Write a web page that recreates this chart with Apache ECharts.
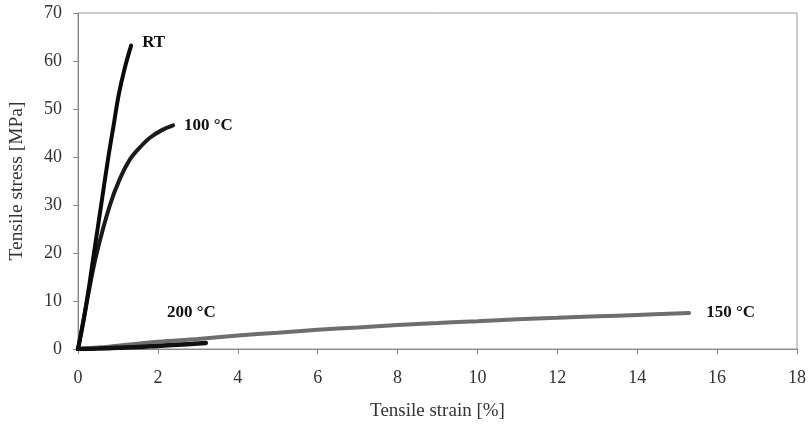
<!DOCTYPE html>
<html><head><meta charset="utf-8">
<script src="https://cdn.jsdelivr.net/npm/echarts@6/dist/echarts.min.js"></script>
<style>html,body{margin:0;padding:0;background:#fff}#c{width:810px;height:424px}</style>
</head><body><div id="c"></div>
<script>
const xTicks = [0,2,4,6,8,10,12,14,16,18];
const yTicks = [0,10,20,30,40,50,60,70];
const seriesNames = ['RT','100 °C','150 °C','200 °C'];
const rtData = [[0,0],[0.22,10],[0.4,20],[0.58,30],[0.76,40],[0.9,47],[1.02,53],[1.17,58.5],[1.33,63.2]];
const t100Data = [[0,0],[0.12,5],[0.27,12],[0.47,20],[0.8,30],[1.05,35.5],[1.3,39.5],[1.55,42],[1.8,44],[2.1,45.6],[2.38,46.6]];
const t150Data = [[0,0],[0.5,0.3],[1,0.7],[2,1.5],[3,2.1],[4,2.8],[5,3.4],[6,4.0],[7,4.5],[8,5.0],[9,5.4],[10,5.8],[11,6.2],[12,6.5],[13,6.8],[14,7.1],[15.3,7.5]];
const t200Data = [[0,0],[0.5,0.1],[1,0.25],[1.5,0.4],[2,0.65],[2.5,0.9],[3.2,1.25]];
const label200At = [2.84, 7.5];

const chart = echarts.init(document.getElementById('c'));
const labelFont = {fontFamily:'Liberation Serif', fontWeight:'bold', fontSize:17, color:'#111'};
function mk(name, data, color, width, labelOffset, showEnd){
  return {
    name, type:'line', data, showSymbol:false, smooth:0.4, silent:true,
    lineStyle:{color, width, cap:'round'},
    endLabel: showEnd ? Object.assign({show:true, formatter:name, offset:labelOffset, align:'left'}, labelFont) : {show:false}
  };
}
chart.setOption({
  animation:false,
  grid:{left:78, right:13, top:13, bottom:75, containLabel:false, outerBoundsMode:'none', show:true, borderColor:'#999', borderWidth:1},
  xAxis:{type:'value', min:0, max:18, interval:2,
    name:'Tensile strain [%]', nameLocation:'middle', nameGap:53,
    nameTextStyle:{fontFamily:'Liberation Serif', fontSize:19, color:'#333'},
    axisLine:{show:true, lineStyle:{color:'#888'}},
    axisTick:{show:true, length:5, lineStyle:{color:'#888'}},
    axisLabel:{fontFamily:'Liberation Serif', fontSize:18, color:'#333', margin:20},
    splitLine:{show:false}},
  yAxis:{type:'value', min:0, max:70, interval:10,
    name:'Tensile stress [MPa]', nameLocation:'middle', nameGap:51, nameRotate:90,
    nameTextStyle:{fontFamily:'Liberation Serif', fontSize:19.5, color:'#333'},
    axisLine:{show:true, lineStyle:{color:'#888'}},
    axisTick:{show:true, length:5, lineStyle:{color:'#888'}},
    axisLabel:{fontFamily:'Liberation Serif', fontSize:18, color:'#333', margin:16},
    splitLine:{show:false}},
  series:[
    mk(seriesNames[2], t150Data, '#6e6e6e', 4, [9,0], true),
    mk(seriesNames[3], t200Data, '#111', 4.5, [0,0], false),
    mk(seriesNames[1], t100Data, '#1a1a1a', 4, [3,0], true),
    mk(seriesNames[0], rtData, '#0a0a0a', 4, [3,-3], true)
  ]
});
const p = chart.convertToPixel({gridIndex:0}, label200At);
chart.setOption({graphic:[{type:'text', x:p[0], y:p[1], silent:true,
  style:{text:seriesNames[3], fill:'#111', font:'bold 17px "Liberation Serif"', align:'center', verticalAlign:'middle'}}]});
</script></body></html>
